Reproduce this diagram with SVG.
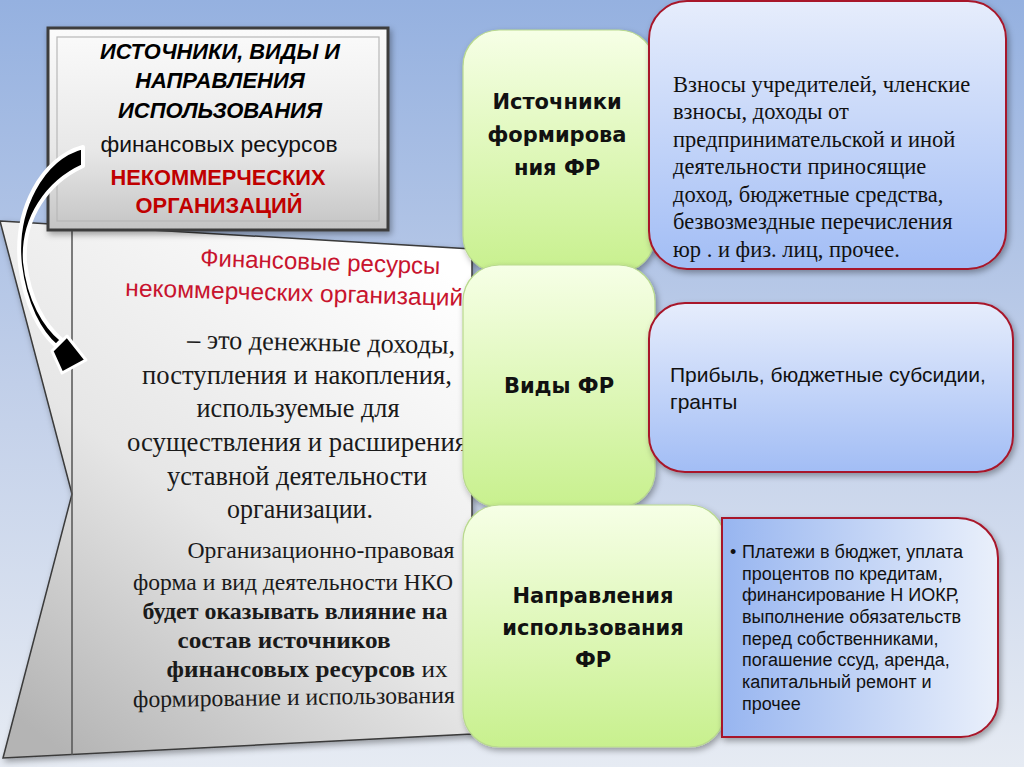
<svg xmlns="http://www.w3.org/2000/svg" width="1024" height="767" viewBox="0 0 1024 767">
<defs>
  <linearGradient id="bg" x1="0" y1="0" x2="0" y2="1">
    <stop offset="0" stop-color="#95b1e0"/>
    <stop offset="0.5" stop-color="#c1cfe9"/>
    <stop offset="1" stop-color="#e6ebf3"/>
  </linearGradient>
  <linearGradient id="panel" x1="0.8" y1="0" x2="0.15" y2="1">
    <stop offset="0" stop-color="#ffffff"/>
    <stop offset="0.55" stop-color="#e6e6e6"/>
    <stop offset="1" stop-color="#b4b4b4"/>
  </linearGradient>
  <linearGradient id="hdr" x1="0" y1="0" x2="0" y2="1">
    <stop offset="0" stop-color="#fbfbfb"/>
    <stop offset="0.6" stop-color="#e8e8e8"/>
    <stop offset="1" stop-color="#c4c4c4"/>
  </linearGradient>
  <linearGradient id="green" x1="0" y1="0" x2="0" y2="1">
    <stop offset="0" stop-color="#f6ffe6"/>
    <stop offset="1" stop-color="#c8f08e"/>
  </linearGradient>
  <linearGradient id="blueV" x1="0" y1="0" x2="0" y2="1">
    <stop offset="0" stop-color="#e6edfc"/>
    <stop offset="1" stop-color="#a2bdf5"/>
  </linearGradient>
  <linearGradient id="blueH" x1="0" y1="0" x2="1" y2="0">
    <stop offset="0" stop-color="#97b5f0"/>
    <stop offset="1" stop-color="#eaf0fb"/>
  </linearGradient>
  <filter id="sh" x="-10%" y="-10%" width="125%" height="125%">
    <feDropShadow dx="2" dy="3" stdDeviation="3" flood-color="#000" flood-opacity="0.35"/>
  </filter>
  <style>
    .hb { font-family: "Liberation Sans", Arial, sans-serif; font-size: 22px; font-weight: bold; font-style: italic; fill: #000; text-anchor: middle; }
    .hn { font-family: "Liberation Sans", Arial, sans-serif; font-size: 22px; fill: #111; text-anchor: middle; }
    .hr { font-family: "Liberation Sans", Arial, sans-serif; font-size: 22px; font-weight: bold; fill: #c00000; text-anchor: middle; }
    .pr { font-family: "Liberation Sans", Arial, sans-serif; font-size: 24px; fill: #c8142e; text-anchor: middle; }
    .pt { font-family: "Liberation Serif", "Times New Roman", serif; font-size: 27px; fill: #1a1a1a; text-anchor: middle; }
    .ps { font-family: "Liberation Serif", "Times New Roman", serif; font-size: 24px; fill: #1a1a1a; text-anchor: middle; }
    .gt { font-family: "DejaVu Sans", sans-serif; font-size: 21px; font-weight: bold; fill: #111; text-anchor: middle; }
    .gbox { fill: url(#green); stroke: #b9d98e; stroke-width: 1.2; }
    .bbox { stroke: #a8182a; stroke-width: 2; }
    .ta { font-family: "Liberation Serif", "Times New Roman", serif; font-size: 22.5px; fill: #111; }
    .tb { font-family: "Liberation Sans", Arial, sans-serif; font-size: 21px; fill: #111; }
    .tc { font-family: "Liberation Sans", Arial, sans-serif; font-size: 18px; fill: #111; }
  </style>
</defs>

<rect x="0" y="0" width="1024" height="767" fill="url(#bg)"/>

<g id="panel">
  <path d="M0 221 L472 249 L472 734 L3 758 L72 494 Z" fill="url(#panel)" stroke="#3a3a3a" stroke-width="1.5" filter="url(#sh)"/>
  <line x1="72" y1="225" x2="72" y2="755" stroke="#555" stroke-width="1.5"/>
  <text class="pr" x="320" y="270" textLength="240" lengthAdjust="spacingAndGlyphs" transform="rotate(2 320 270)">Финансовые ресурсы</text>
  <text class="pr" x="294" y="301" textLength="338" lengthAdjust="spacingAndGlyphs" transform="rotate(1.7 294 301)">некоммерческих организаций</text>
  <text class="pt" x="321" y="351" textLength="268" lengthAdjust="spacingAndGlyphs" transform="rotate(1.2 321 351)">– это денежные доходы,</text>
  <text class="pt" x="297" y="384" textLength="310" lengthAdjust="spacingAndGlyphs">поступления и накопления,</text>
  <text class="pt" x="298" y="417" textLength="203" lengthAdjust="spacingAndGlyphs">используемые для</text>
  <text class="pt" x="297" y="451" textLength="340" lengthAdjust="spacingAndGlyphs">осуществления и расширения</text>
  <text class="pt" x="297" y="485" textLength="260" lengthAdjust="spacingAndGlyphs">уставной деятельности</text>
  <text class="pt" x="300" y="518" textLength="146" lengthAdjust="spacingAndGlyphs">организации.</text>
  <text class="ps" x="321" y="558" textLength="267" lengthAdjust="spacingAndGlyphs">Организационно-правовая</text>
  <text class="ps" x="293" y="590" textLength="320" lengthAdjust="spacingAndGlyphs">форма и вид деятельности НКО</text>
  <text class="ps" x="295" y="619" font-weight="bold" textLength="305" lengthAdjust="spacingAndGlyphs">будет оказывать влияние на</text>
  <text class="ps" x="284" y="648" font-weight="bold" textLength="213" lengthAdjust="spacingAndGlyphs">состав источников</text>
  <text class="ps" x="307" y="677" textLength="281" lengthAdjust="spacingAndGlyphs"><tspan font-weight="bold">финансовых ресурсов</tspan> их</text>
  <text class="ps" x="294" y="705" textLength="322" lengthAdjust="spacingAndGlyphs" transform="rotate(-0.8 294 705)">формирование и использования</text>
</g>

<g id="header">
  <rect x="48" y="28" width="340" height="202" fill="url(#hdr)" stroke="#3c3c3c" stroke-width="3" filter="url(#sh)"/>
  <rect x="57" y="37" width="322" height="184" fill="none" stroke="#b8b8b8" stroke-width="1.2"/>
  <text class="hb" x="220" y="59" textLength="240" lengthAdjust="spacingAndGlyphs">ИСТОЧНИКИ, ВИДЫ И</text>
  <text class="hb" x="220" y="88">НАПРАВЛЕНИЯ</text>
  <text class="hb" x="220" y="118">ИСПОЛЬЗОВАНИЯ</text>
  <text class="hn" x="219" y="152" textLength="237" lengthAdjust="spacingAndGlyphs">финансовых ресурсов</text>
  <text class="hr" x="218" y="185" textLength="215" lengthAdjust="spacingAndGlyphs">НЕКОММЕРЧЕСКИХ</text>
  <text class="hr" x="219" y="213" textLength="167" lengthAdjust="spacingAndGlyphs">ОРГАНИЗАЦИЙ</text>
</g>

<g id="connectors">
  <path d="M83 147 C42 158 14 210 20 265 C25 305 40 332 56 346 L62 340 C45 326 29 300 25 262 C22 218 48 182 83 166 Z" fill="#000" stroke="#fff" stroke-width="4" stroke-linejoin="round"/>
  <path d="M52 351 L67 336 L86 360 L62 373 Z" fill="#000" stroke="#fff" stroke-width="3" stroke-linejoin="round"/>
</g>

<g id="g-sources">
  <rect class="gbox" x="463" y="30" width="192" height="242" rx="36" filter="url(#sh)"/>
  <text class="gt" x="557" y="109">Источники</text>
  <text class="gt" x="557" y="142">формирова</text>
  <text class="gt" x="557" y="175">ния ФР</text>
</g>
<g id="g-types">
  <rect class="gbox" x="463" y="265" width="192" height="242" rx="36" filter="url(#sh)"/>
  <text class="gt" x="559" y="393">Виды ФР</text>
</g>
<g id="g-uses">
  <rect class="gbox" x="463" y="505" width="262" height="242" rx="36" filter="url(#sh)"/>
  <text class="gt" x="593" y="603">Направления</text>
  <text class="gt" x="593" y="635">использования</text>
  <text class="gt" x="593" y="667">ФР</text>
</g>

<g id="b-sources">
  <rect class="bbox" x="649" y="1" width="357" height="268" rx="38" fill="url(#blueV)" filter="url(#sh)"/>
  <g class="ta" xml:space="preserve">
    <text x="673" y="92">Взносы учредителей, членские</text>
    <text x="673" y="119">взносы, доходы от</text>
    <text x="673" y="147">предпринимательской и иной</text>
    <text x="673" y="174">деятельности приносящие</text>
    <text x="673" y="202">доход,  бюджетные средства,</text>
    <text x="673" y="229">безвозмездные перечисления</text>
    <text x="673" y="257">юр . и физ.  лиц, прочее.</text>
  </g>
</g>

<g id="b-types">
  <rect class="bbox" x="649" y="303" width="364" height="169" rx="36" fill="url(#blueV)" filter="url(#sh)"/>
  <text class="tb" x="670" y="382">Прибыль, бюджетные субсидии,</text>
  <text class="tb" x="670" y="409">гранты</text>
</g>

<g id="b-uses">
  <path class="bbox" d="M722 518 L958 518 A40 40 0 0 1 998 558 L998 700 A37 37 0 0 1 961 737 L722 737 Z" fill="url(#blueH)" filter="url(#sh)"/>
  <g class="tc">
    <text x="730" y="558">•</text>
    <text x="742" y="558">Платежи в бюджет, уплата</text>
    <text x="742" y="580">процентов по кредитам,</text>
    <text x="742" y="601">финансирование Н ИОКР,</text>
    <text x="742" y="623">выполнение обязательств</text>
    <text x="742" y="645">перед собственниками,</text>
    <text x="742" y="666">погашение ссуд, аренда,</text>
    <text x="742" y="688">капитальный ремонт и</text>
    <text x="742" y="710">прочее</text>
  </g>
</g>
</svg>
